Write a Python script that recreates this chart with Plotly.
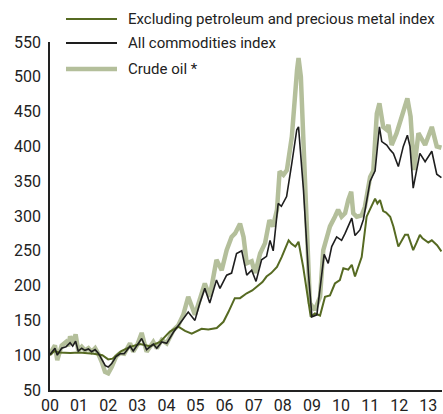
import plotly.graph_objects as go

# ---- data (x = years since 2000, values = index, 2000 = 100) ----
years = list(range(14))
year_labels = ["00", "01", "02", "03", "04", "05", "06", "07", "08", "09", "10", "11", "12", "13"]
y_ticks = [50, 100, 150, 200, 250, 300, 350, 400, 450, 500, 550]

oil_t = [0.0, 0.17, 0.25, 0.4, 0.55, 0.63, 0.69, 0.78, 0.88, 0.97,
         1.09, 1.2, 1.32, 1.43, 1.55, 1.66, 1.78, 1.89, 2.0, 2.12,
         2.27, 2.41, 2.55, 2.75, 2.86, 3.0, 3.15, 3.32, 3.55, 3.67,
         3.84, 4.01, 4.24, 4.41, 4.58, 4.75, 4.98, 5.15, 5.32, 5.49,
         5.72, 5.9, 6.07, 6.24, 6.36, 6.53, 6.65, 6.76, 6.93, 7.05,
         7.22, 7.39, 7.54, 7.66, 7.8, 7.89, 8.02, 8.14, 8.31, 8.49,
         8.54, 8.62, 8.77, 8.93, 9.1, 9.28, 9.39, 9.51, 9.62, 9.79,
         9.9, 10.02, 10.14, 10.25, 10.35, 10.42, 10.54, 10.71, 10.82, 11.0,
         11.11, 11.23, 11.32, 11.45, 11.57, 11.63, 11.74, 11.91, 12.08, 12.28,
         12.39, 12.51, 12.66, 12.89, 13.12, 13.29, 13.45]
oil_v = [102, 114, 93, 114, 119, 113, 127, 117, 130, 107,
         112, 107, 110, 105, 110, 102, 90, 76, 74, 83,
         98, 103, 102, 117, 105, 115, 132, 105, 119, 110,
         122, 117, 136, 143, 158, 184, 158, 180, 203, 184,
         237, 222, 251, 270, 275, 289, 270, 232, 235, 218,
         246, 261, 294, 285, 309, 364, 359, 366, 414, 510,
         527, 500, 342, 175, 165, 184, 251, 270, 285, 299,
         309, 299, 304, 323, 335, 304, 299, 301, 313, 356,
         365, 447, 462, 428, 424, 431, 402, 419, 443, 469,
         443, 366, 419, 402, 428, 400, 398]

all_t = [0.0, 0.17, 0.25, 0.4, 0.55, 0.69, 0.78, 0.88, 0.97, 1.09,
         1.2, 1.32, 1.43, 1.55, 1.66, 1.78, 1.9, 2.0, 2.12, 2.27,
         2.41, 2.55, 2.75, 2.86, 3.0, 3.15, 3.32, 3.55, 3.67, 3.84,
         4.01, 4.24, 4.47, 4.75, 4.98, 5.15, 5.32, 5.49, 5.72, 5.84,
         6.07, 6.24, 6.41, 6.59, 6.76, 6.93, 7.08, 7.27, 7.44, 7.56,
         7.67, 7.84, 7.95, 8.13, 8.31, 8.48, 8.54, 8.71, 8.88, 9.0,
         9.17, 9.3, 9.42, 9.56, 9.68, 9.85, 10.02, 10.14, 10.25, 10.37,
         10.48, 10.65, 10.77, 11.0, 11.17, 11.32, 11.4, 11.57, 11.69, 11.8,
         11.97, 12.14, 12.28, 12.37, 12.48, 12.71, 12.89, 13.12, 13.29, 13.45]
all_v = [101, 110, 100, 110, 112, 118, 113, 120, 106, 110,
         107, 109, 105, 108, 103, 95, 85, 83, 88, 98,
         102, 102, 113, 106, 114, 124, 108, 116, 110, 119,
         117, 133, 146, 162, 150, 175, 196, 175, 208, 196,
         215, 218, 246, 250, 215, 222, 206, 237, 242, 265,
         250, 318, 314, 328, 376, 424, 428, 337, 218, 155,
         158, 200, 245, 232, 256, 270, 265, 275, 285, 297,
         272, 280, 295, 350, 365, 428, 407, 402, 395, 390,
         371, 400, 416, 400, 340, 390, 378, 393, 360, 355]

ex_t = [0.0, 0.15, 0.3, 0.5, 0.7, 1.0, 1.3, 1.5, 1.8, 2.0,
        2.15, 2.3, 2.45, 2.75, 3.09, 3.44, 3.78, 4.12, 4.41, 4.64,
        4.87, 5.21, 5.44, 5.73, 5.96, 6.13, 6.35, 6.53, 6.76, 6.95,
        7.11, 7.3, 7.44, 7.6, 7.8, 7.96, 8.2, 8.3, 8.43, 8.54,
        8.7, 8.8, 8.96, 9.1, 9.28, 9.45, 9.62, 9.79, 9.96, 10.08,
        10.25, 10.37, 10.48, 10.71, 10.88, 11.0, 11.17, 11.25, 11.34, 11.45,
        11.55, 11.69, 11.8, 11.97, 12.08, 12.2, 12.3, 12.4, 12.48, 12.6,
        12.71, 12.8, 12.89, 13.0, 13.12, 13.3, 13.45]
ex_v = [100, 106, 104, 103, 103, 104, 103, 102, 100, 94,
        95, 100, 106, 112, 116, 113, 119, 134, 141, 135,
        131, 138, 137, 139, 148, 162, 182, 182, 189, 193,
        198, 205, 213, 218, 227, 241, 265, 260, 256, 263,
        227, 200, 155, 160, 157, 184, 186, 203, 208, 225,
        223, 230, 213, 241, 299, 310, 325, 318, 323, 307,
        305, 299, 285, 256, 265, 273, 273, 262, 251, 262,
        273, 268, 265, 262, 265, 258, 249]

assert len(oil_t) == len(oil_v)
assert len(all_t) == len(all_v)
assert len(ex_t) == len(ex_v)

names = ["Excluding petroleum and precious metal index", "All commodities index", "Crude oil *"]
colors = ["#566a22", "#1e1e1e", "#b4bf9b"]
widths = [2, 1.6, 4.5]

FONT = "Roboto"

fig = go.Figure()
fig.add_trace(go.Scatter(x=oil_t, y=oil_v, mode="lines", name=names[2],
                         line=dict(color=colors[2], width=widths[2])))
fig.add_trace(go.Scatter(x=ex_t, y=ex_v, mode="lines", name=names[0],
                         line=dict(color=colors[0], width=widths[0])))
fig.add_trace(go.Scatter(x=all_t, y=all_v, mode="lines", name=names[1],
                         line=dict(color=colors[1], width=widths[1])))

# manual legend (pixel-like positions in paper coords)
W, H = 443, 414
ml, mr, mt, mb = 50, 1, 42, 24
pw, ph = W - ml - mr, H - mt - mb
def px(x):
    return (x - ml) / pw
def py(y):
    return 1 - (y - mt) / ph

leg_y = [19, 43, 69]
for i in range(3):
    fig.add_shape(type="line", xref="paper", yref="paper",
                  x0=px(66), x1=px(117), y0=py(leg_y[i]), y1=py(leg_y[i]),
                  line=dict(color=colors[i], width=widths[i] if i != 1 else 2))
    fig.add_annotation(xref="paper", yref="paper", x=px(126), y=py(leg_y[i]),
                       text=names[i], showarrow=False, xanchor="left", yanchor="middle",
                       font=dict(family=FONT, size=15, color="#222"))

fig.update_layout(
    width=W, height=H,
    margin=dict(l=ml, r=mr, t=mt, b=mb, autoexpand=False),
    paper_bgcolor="white", plot_bgcolor="white",
    showlegend=False,
    font=dict(family=FONT, size=16, color="#222"),
)
fig.update_xaxes(range=[0, 13.47], tickvals=years, ticktext=year_labels,
                 showgrid=False, zeroline=False, showline=True, linecolor="#222",
                 linewidth=1.5, ticks="", automargin=False,
                 tickfont=dict(size=16, family=FONT))
fig.update_yaxes(range=[50, 550], tickvals=y_ticks, showgrid=False, zeroline=False,
                 showline=True, linecolor="#222", linewidth=1.5, ticks="",
                 automargin=False, ticklabelstandoff=4,
                 tickfont=dict(size=16, family=FONT))

fig.write_html("out.html", config={"displayModeBar": False},
               post_script="document.body.style.margin='0';document.body.style.overflow='hidden';")
